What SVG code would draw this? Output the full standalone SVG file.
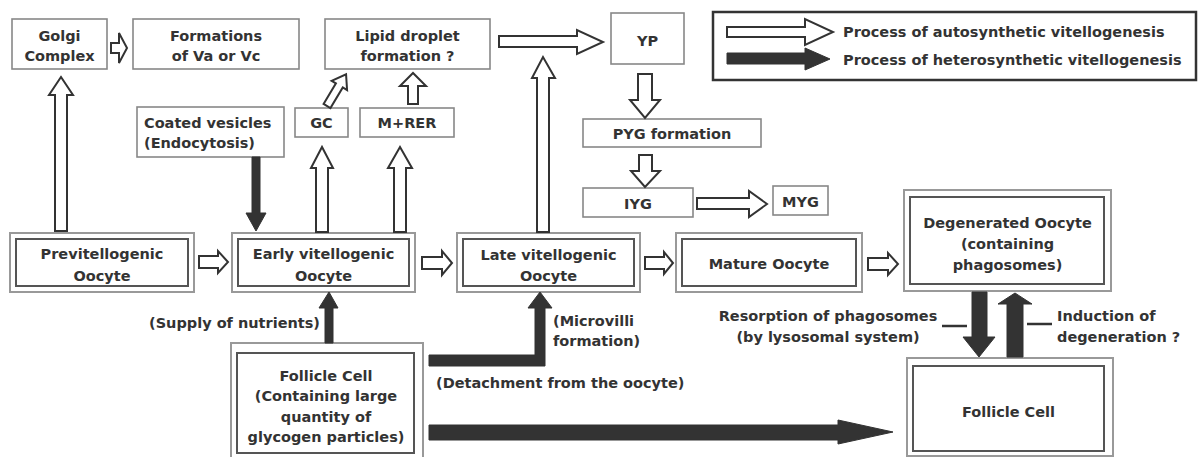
<svg xmlns="http://www.w3.org/2000/svg" width="1198" height="457" viewBox="0 0 1198 457">
<style>
text{font-family:"DejaVu Sans","Liberation Sans",sans-serif;font-weight:bold;font-size:14.5px;fill:#333}
.c{text-anchor:middle}
.box{fill:#fff;stroke:#888;stroke-width:1.6}
.outer{fill:#fff;stroke:#999;stroke-width:2}
.inner{fill:none;stroke:#555;stroke-width:2}
.hollow{fill:#fff;stroke:#333;stroke-width:2;stroke-linejoin:miter}
.solid{fill:#333;stroke:#333;stroke-width:1}
.lead{stroke:#333;stroke-width:2.5}
</style>
<rect width="1198" height="457" fill="#fff"/>

<g id="legend">
<rect x="713" y="12" width="483" height="68" fill="#fff" stroke="#333" stroke-width="2.5"/>
<polygon class="hollow" points="727,27 805,27 805,19 833,32 805,45 805,37 727,37"/>
<polygon class="solid" points="727,53 805,53 805,48 830,59 805,70 805,64 727,64"/>
<text x="843" y="37">Process of autosynthetic vitellogenesis</text>
<text x="843" y="65">Process of heterosynthetic vitellogenesis</text>
</g>

<g id="golgi"><rect class="box" x="12" y="19" width="95" height="50"/><text class="c" x="59.5" y="41">Golgi</text><text class="c" x="59.5" y="61">Complex</text></g>
<g id="formations"><rect class="box" x="133" y="19" width="166" height="50"/><text class="c" x="216" y="41">Formations</text><text class="c" x="216" y="61">of Va or Vc</text></g>
<g id="lipid"><rect class="box" x="325" y="19" width="165" height="50"/><text class="c" x="407.5" y="41">Lipid droplet</text><text class="c" x="407.5" y="61">formation ?</text></g>
<g id="yp"><rect class="box" x="611" y="13" width="73" height="51"/><text class="c" x="647.5" y="46">YP</text></g>
<g id="coated"><rect class="box" x="137" y="107" width="147" height="50"/><text x="144" y="128">Coated vesicles</text><text x="144" y="148">(Endocytosis)</text></g>
<g id="gc"><rect class="box" x="295" y="108" width="53" height="29"/><text class="c" x="321.5" y="128">GC</text></g>
<g id="mrer"><rect class="box" x="360" y="108" width="94" height="29"/><text class="c" x="407" y="128">M+RER</text></g>
<g id="pyg"><rect class="box" x="583" y="119" width="178" height="28"/><text class="c" x="672" y="139">PYG formation</text></g>
<g id="iyg"><rect class="box" x="583" y="188" width="110" height="29"/><text class="c" x="638" y="209">IYG</text></g>
<g id="myg"><rect class="box" x="773" y="186" width="55" height="29"/><text class="c" x="800.5" y="207">MYG</text></g>

<g id="previtellogenic"><rect class="outer" x="10" y="233" width="184" height="59"/><rect class="inner" x="16" y="239" width="172" height="47"/><text class="c" x="102" y="259">Previtellogenic</text><text class="c" x="102" y="281">Oocyte</text></g>
<g id="early"><rect class="outer" x="232" y="233" width="183" height="59"/><rect class="inner" x="238" y="239" width="171" height="47"/><text class="c" x="323.5" y="259">Early vitellogenic</text><text class="c" x="323.5" y="281">Oocyte</text></g>
<g id="late"><rect class="outer" x="457" y="233" width="183" height="59"/><rect class="inner" x="463" y="239" width="171" height="47"/><text class="c" x="548.5" y="260">Late vitellogenic</text><text class="c" x="548.5" y="281">Oocyte</text></g>
<g id="mature"><rect class="outer" x="676" y="233" width="186" height="59"/><rect class="inner" x="682" y="239" width="174" height="47"/><text class="c" x="769" y="269">Mature Oocyte</text></g>
<g id="degenerated"><rect class="outer" x="904" y="190" width="207" height="101"/><rect class="inner" x="910" y="197" width="194" height="87"/><text class="c" x="1007.5" y="228">Degenerated Oocyte</text><text class="c" x="1007.5" y="249">(containing</text><text class="c" x="1007.5" y="270">phagosomes)</text></g>
<g id="follicle-left"><rect class="outer" x="231" y="343" width="192" height="130"/><rect class="inner" x="237" y="353" width="177" height="100"/><text class="c" x="326" y="381">Follicle Cell</text><text class="c" x="326" y="401">(Containing large</text><text class="c" x="326" y="422">quantity of</text><text class="c" x="326" y="442">glycogen particles)</text></g>
<g id="follicle-right"><rect class="outer" x="907" y="358" width="206" height="98"/><rect class="inner" x="913" y="366" width="191" height="85"/><text class="c" x="1008.5" y="417">Follicle Cell</text></g>

<g id="connectors">
<polygon class="hollow" points="111,43 119,43 119,33 127,48 119,63 119,53 111,53"/>
<polygon class="hollow" points="55,231 55,95 49,95 61,77 73,95 67,95 67,231"/>
<polygon class="hollow" transform="translate(327,106) rotate(31)" points="-4,0 -4,-24 -9,-24 0,-37 9,-24 4,-24 4,0"/>
<polygon class="hollow" points="408,104 408,86 400,86 413,73 426,86 418,86 418,104"/>
<polygon class="hollow" points="316,232 316,168 311,168 322,147 333,168 328,168 328,232"/>
<polygon class="hollow" points="394,232 394,168 388,168 400,147 412,168 406,168 406,232"/>
<polygon class="hollow" points="537,232 537,78 532,78 543,57 555,78 549,78 549,232"/>
<polygon class="hollow" points="499,36 577,36 577,30 603,42 577,54 577,47 499,47"/>
<polygon class="hollow" points="638,74 652,74 652,100 660,100 645,118 630,100 638,100"/>
<polygon class="hollow" points="639,155 652,155 652,171 660,171 645,187 631,171 639,171"/>
<polygon class="hollow" points="697,198 749,198 749,191 767,204 749,217 749,209 697,209"/>
<polygon class="hollow" points="199,256 218,256 218,251 228,262 218,273 218,268 199,268"/>
<polygon class="hollow" points="422,257 442,257 442,251 452,263 442,275 442,269 422,269"/>
<polygon class="hollow" points="645,257 664,257 664,252 673,263 664,274 664,269 645,269"/>
<polygon class="hollow" points="868,258 888,258 888,253 898,264 888,275 888,270 868,270"/>
<polygon class="solid" points="252,157 260,157 260,213 266,213 256,231 246,213 252,213"/>
<polygon class="solid" points="325,343 325,308 319,308 329,292 338,308 333,308 333,343"/>
<polygon class="solid" points="429,355 535,355 535,308 528,308 540,292 552,308 545,308 545,366 429,366"/>
<polygon class="solid" points="429,425 838,425 838,420 893,432 838,444 838,440 429,440"/>
<polygon class="solid" points="972,292 987,292 987,337 995,337 979,357 963,337 972,337"/>
<polygon class="solid" points="1007,357 1007,304 998,304 1015,293 1032,304 1023,304 1023,357"/>
<line class="lead" x1="942" y1="326" x2="967" y2="326"/>
<line class="lead" x1="1027" y1="324" x2="1052" y2="324"/>
<text x="320" y="328" text-anchor="end">(Supply of nutrients)</text>
<text x="553" y="326">(Microvilli</text>
<text x="553" y="346">formation)</text>
<text x="436" y="388">(Detachment from the oocyte)</text>
<text class="c" x="828" y="321">Resorption of phagosomes</text>
<text class="c" x="828" y="342">(by lysosomal system)</text>
<text x="1057" y="321">Induction of</text>
<text x="1057" y="342">degeneration ?</text>
</g>
</svg>
